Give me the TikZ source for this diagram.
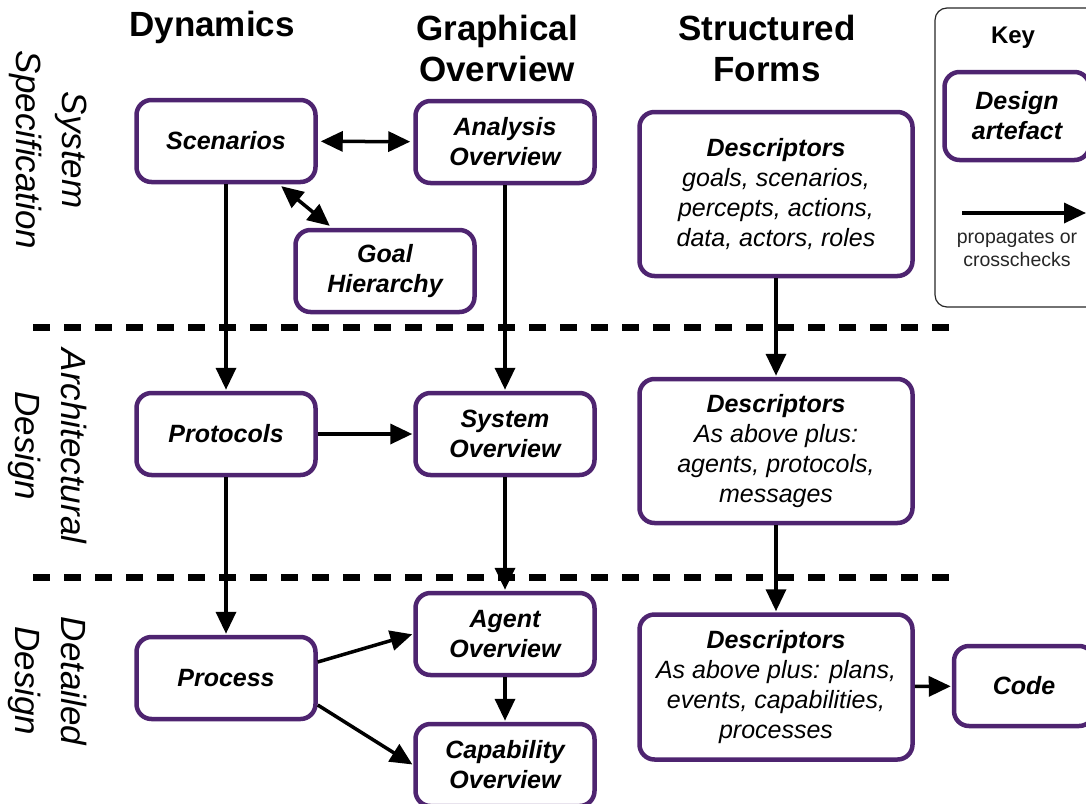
\documentclass[tikz,border=0pt]{standalone}
\usepackage{fontspec}
\setmainfont{Liberation Sans}
\usetikzlibrary{arrows.meta,positioning}

\definecolor{artpurple}{RGB}{78,36,112}

\begin{document}
\begin{tikzpicture}[x=1pt,y=-1pt,->,>={Triangle[length=22pt,width=20pt]},
                    line width=3.5pt,shorten >=1pt,
                    font=\fontsize{25}{30}\selectfont\bfseries\itshape]
  \tikzstyle{artefact}=[draw=artpurple,line width=4.5pt,rounded corners=15pt,
                        fill=white,minimum width=179pt,minimum height=82pt,
                        align=center,inner sep=4pt]
  \tikzstyle{descr}=[artefact,minimum width=273pt]
  \tikzstyle{heading}=[font=\fontsize{35}{41}\selectfont\bfseries,align=center]
  \tikzstyle{phase}=[font=\fontsize{35}{46}\selectfont\itshape,align=center,
                     rotate=-90]
  \tikzstyle{divider}=[-,line width=7pt,dash pattern=on 17pt off 14pt]

  \useasboundingbox (0,0) rectangle (1086,803);

  % column and phase labels
  \node[heading] (dyn)   at (212,27) {Dynamics};
  \node[heading] (graph) at (497,48) {Graphical\\Overview};
  \node[heading] (forms) at (767,48) {Structured\\Forms};
  \node[phase] (spec) at (48,150) {System\\Specification};
  \node[phase] (arch) at (48,446) {Architectural\\Design};
  \node[phase] (det)  at (48,681) {Detailed\\Design};

  % phase boundaries
  \draw[divider] (33,327) -- (950,327);
  \draw[divider] (33,577) -- (950,577);

  % key
  \draw[-,line width=1.2pt,draw=black!85,rounded corners=12pt]
       (935,8) rectangle (1110,307);
  \node[font=\fontsize{24}{28}\selectfont\bfseries] (key) at (1013,38) {Key};
  \node[artefact,minimum width=145pt,minimum height=88pt] (keyart)
       at (1017,116) {Design\\artefact};
  \coordinate (keyl) at (962,213);
  \coordinate (keyr) at (1087,213);
  \draw (keyl) -- (keyr);
  \node[font=\fontsize{19.5}{23}\selectfont,align=center,text=black!85]
       (keytxt) at (1017,249) {propagates or\\crosschecks};

  % design artefacts
  \node[artefact] (scen)  at (226,141) {Scenarios};
  \node[artefact] (anov)  at (505,142) {Analysis\\Overview};
  \node[artefact] (goal)  at (385,271) {Goal\\Hierarchy};
  \node[descr,minimum height=164pt] (desc1) at (776,194)
       {Descriptors\\\mdseries goals, scenarios,\\\mdseries percepts, actions,\\\mdseries data, actors, roles};

  \node[artefact] (prot)  at (226,434) {Protocols};
  \node[artefact] (sysov) at (505,434) {System\\Overview};
  \node[descr,minimum height=144pt] (desc2) at (776,451)
       {Descriptors\\\mdseries As above plus:\\\mdseries agents, protocols,\\\mdseries messages};

  \node[artefact] (proc)  at (226,678) {Process};
  \node[artefact] (agov)  at (505,634) {Agent\\Overview};
  \node[artefact] (capov) at (505,765) {Capability\\Overview};
  \node[descr,minimum height=145pt] (desc3) at (776,687)
       {Descriptors\\\mdseries As above plus: plans,\\\mdseries events, capabilities,\\\mdseries processes};
  \node[artefact,minimum width=140pt,minimum height=80pt] (code) at (1024,686) {Code};

  % propagation
  \path[<->,shorten <=3pt,shorten >=3pt] (scen) edge (anov)
                                          edge (goal);
  \path (scen)  edge (prot)
        (anov)  edge (sysov)
        (desc1) edge (desc2);
  \path (prot)  edge (sysov)
                edge (proc)
        (sysov) edge (agov)
        (desc2) edge (desc3);
  \path (proc.east) ++(0,-16) edge (agov.west)
        (proc.east) ++(0,27) edge (capov.west);
  \path (agov)  edge (capov)
        (desc3) edge (code);

\end{tikzpicture}
\end{document}
